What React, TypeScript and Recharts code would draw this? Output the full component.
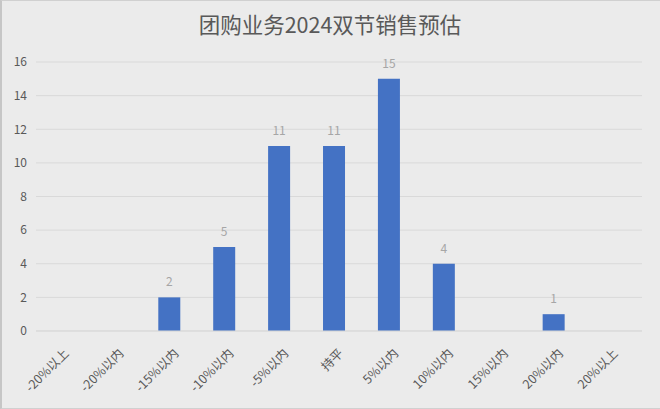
import React from "react";
import { BarChart, Bar, XAxis, YAxis, CartesianGrid, LabelList } from "recharts";

const categories = ["-20%以上", "-20%以内", "-15%以内", "-10%以内", "-5%以内", "持平", "5%以内", "10%以内", "15%以内", "20%以内", "20%以上"];
const counts: (number | null)[] = [null, null, 2, 5, 11, 11, 15, 4, null, 1, null];
const yTicks = [0, 2, 4, 6, 8, 10, 12, 14, 16];
const title = "团购业务2024双节销售预估";

const data = categories.map((c, i) => ({ name: c, value: counts[i] }));

const FONT = '"Noto Sans CJK SC", "Noto Sans", sans-serif';

const XTick = (props: any) => {
  const { x, y, payload } = props;
  const ax = x + 7;
  const ay = y + 20;
  return (
    <text
      x={ax}
      y={ay}
      dy="0.35em"
      textAnchor="end"
      transform={`rotate(-45, ${ax}, ${ay})`}
      fill="#595959"
      fontSize={12.5}
      fontFamily={FONT}
    >
      {payload.value}
    </text>
  );
};

export default function App() {
  return (
    <div style={{ position: "absolute", left: 0, top: 0, width: 660, height: 409, background: "#ebebeb", fontFamily: FONT }}>
      <BarChart
        width={660}
        height={409}
        data={data}
        margin={{ top: 62, right: 18, bottom: 0, left: 0 }}
        barCategoryGap="30%"
      >
        <text x={330} y={25} dy="0.35em" textAnchor="middle" fill="#595959" fontSize={21.5} fontFamily={FONT}>
          {title}
        </text>
        <CartesianGrid vertical={false} stroke="#d9d9d9" strokeWidth={1} />
        <XAxis
          dataKey="name"
          interval={0}
          tickLine={false}
          tickSize={0}
          tickMargin={0}
          axisLine={{ stroke: "#d9d9d9" }}
          height={78}
          padding={{ left: -4, right: 6 }}
          tick={<XTick />}
        />
        <YAxis
          width={36}
          domain={[0, 16]}
          ticks={yTicks}
          interval={0}
          axisLine={false}
          tickLine={false}
          tickSize={0}
          tickMargin={9}
          tick={{ fill: "#595959", fontSize: 12, fontFamily: FONT }}
        />
        <Bar dataKey="value" fill="#4472c4" isAnimationActive={false}>
          <LabelList dataKey="value" position="top" offset={11} fill="#a6a6a6" fontSize={12} fontFamily={FONT} />
        </Bar>
      </BarChart>
      <div style={{ position: "absolute", inset: 0, borderLeft: "2px solid #c6c6c6", borderTop: "1px solid #d0d0d0", borderBottom: "1px solid #d0d0d0", pointerEvents: "none" }} />
    </div>
  );
}
